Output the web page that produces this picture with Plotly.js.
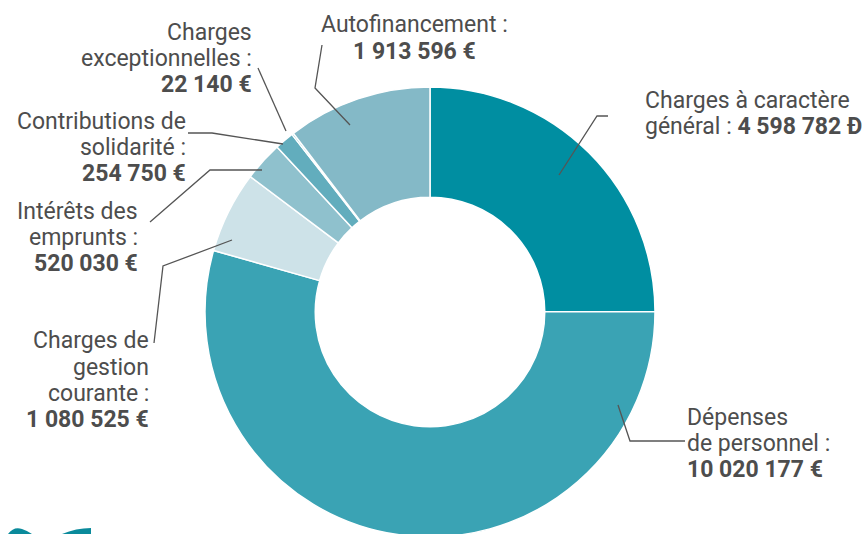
<!DOCTYPE html>
<html>
<head>
<meta charset="utf-8">
<script src="https://cdn.plot.ly/plotly-3.0.1.min.js"></script>
<style>
html,body{margin:0;padding:0;overflow:hidden;background:#fff;}
#chart{width:865px;height:560px;}
</style>
</head>
<body>
<div id="chart"></div>
<script>
// ---- data ----
const categories = [
  "Charges à caractère général",
  "Dépenses de personnel",
  "Charges de gestion courante",
  "Intérêts des emprunts",
  "Contributions de solidarité",
  "Charges exceptionnelles",
  "Autofinancement"
];
const values = [4598782, 10020177, 1080525, 520030, 254750, 22140, 1913596];
const labelLines = [
  ["Charges à caractère", "général : "],
  ["Dépenses", "de personnel :"],
  ["Charges de", "gestion", "courante :"],
  ["Intérêts des", "emprunts :"],
  ["Contributions de", "solidarité :"],
  ["Charges", "exceptionnelles :"],
  ["Autofinancement :"]
];
const currency = ["Ð", "€", "€", "€", "€", "€", "€"];
const colors = ["#008ea1", "#3aa3b4", "#cde2e8", "#8fc1cd", "#62adbd", "#0a95a7", "#84b9c7"];

// ---- layout helpers ----
const W = 865, H = 560;
const px = x => x / W;
const py = y => 1 - y / H;
function fmt(v){ return String(v).replace(/\B(?=(\d{3})+(?!\d))/g, " "); }

// label placement (pixels): x, y of first line centre, xanchor, inline value?
const LINE = 26.3;
const labelPos = [
  {x:644, y:100, xa:"left"},
  {x:686, y:417, xa:"left"},
  {x:150, y:341, xa:"right"},
  {x:139, y:211, xa:"right"},
  {x:187, y:121, xa:"right"},
  {x:253, y:32,  xa:"right"},
  {x:414, y:25,  xa:"center"}
];
const inlineValue = [true, false, false, false, false, false, false];
const leaders = [
  [[559,175],[597,116],[608,116]],
  [[618,405],[630,441],[685,441]],
  [[232,240],[163,266],[154,343]],
  [[262,170],[210,170],[150,222]],
  [[283,144],[212,133],[188,133]],
  [[286,131],[258,68]],
  [[350,125],[315,88],[322,45]]
];

const FONT = {family: "Roboto, 'Noto Sans', sans-serif", size: 23, color: "#4d4d4d"};
const annotations = [];
categories.forEach((c, i) => {
  const lines = labelLines[i].slice();
  const val = "<b>" + fmt(values[i]) + " " + currency[i] + "</b>";
  if (inlineValue[i]) lines[lines.length-1] += val; else lines.push(val);
  lines.forEach((t, k) => {
    annotations.push({
      text: t,
      xref: "paper", yref: "paper",
      x: px(labelPos[i].x), y: py(labelPos[i].y + k * LINE),
      xanchor: labelPos[i].xa, yanchor: "middle",
      showarrow: false, borderpad: 0,
      font: FONT
    });
  });
});

const shapes = leaders.map(pts => ({
  type: "path", xref: "paper", yref: "paper",
  path: pts.map((p, k) => (k ? "L" : "M") + px(p[0]) + "," + py(p[1])).join(" "),
  line: {color: "#555555", width: 1.3}
}));
// small logo fragment bottom-left
shapes.push({type:"path", xref:"paper", yref:"paper", fillcolor:"#0a8a9b", line:{width:0},
  path:"M"+px(8)+","+py(534)+" Q"+px(14)+","+py(526)+" "+px(22)+","+py(529)+" Q"+px(28)+","+py(531)+" "+px(32)+","+py(534)+" Z"});
shapes.push({type:"path", xref:"paper", yref:"paper", fillcolor:"#0a8a9b", line:{width:0},
  path:"M"+px(62)+","+py(534)+" Q"+px(76)+","+py(528)+" "+px(91)+","+py(528)+" L"+px(91)+","+py(534)+" Z"});

// pie geometry (pixels)
const cx = 430, cy = 312, R = 225;

Plotly.newPlot("chart", [{
  type: "pie",
  labels: categories,
  values: values,
  sort: false,
  direction: "clockwise",
  rotation: 0,
  hole: 0.51,
  textinfo: "none",
  hoverinfo: "label+value",
  marker: {colors: colors, line: {color: "#ffffff", width: 1.5}},
  domain: {x: [px(cx - R), px(cx + R)], y: [py(cy + R), py(cy - R)]}
}], {
  width: W, height: H,
  margin: {l:0, r:0, t:0, b:0},
  showlegend: false,
  paper_bgcolor: "#ffffff",
  annotations: annotations,
  shapes: shapes
}, {staticPlot: true});
</script>
</body>
</html>
